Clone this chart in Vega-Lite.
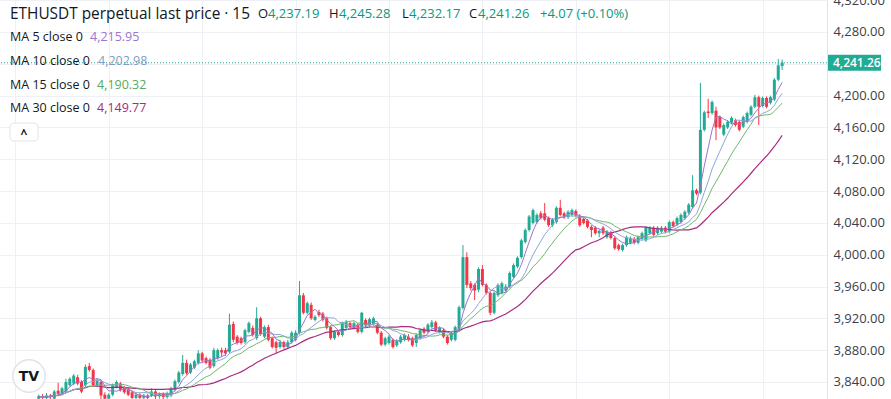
{
  "$schema": "https://vega.github.io/schema/vega-lite/v6.json",
  "width": 827,
  "height": 399,
  "autosize": {"type": "none"},
  "padding": {"left": 0, "top": 0, "right": 64, "bottom": 0},
  "background": "#ffffff",
  "config": {"view": {"stroke": null}, "font": "Open Sans", "axis": {"labelOverlap": false}},
  "datasets": {
    "candles": [
      {"i":0,"o":3819,"h":3824,"l":3817,"c":3822},{"i":1,"o":3822,"h":3825,"l":3817,"c":3820},{"i":2,"o":3820,"h":3826,"l":3818,"c":3823},{"i":3,"o":3823,"h":3825,"l":3818,"c":3821},{"i":4,"o":3819,"h":3830,"l":3817,"c":3828},{"i":5,"o":3829,"h":3839,"l":3822,"c":3825},{"i":6,"o":3825,"h":3834,"l":3823,"c":3832},{"i":7,"o":3828,"h":3844,"l":3826,"c":3840},{"i":8,"o":3836,"h":3846,"l":3834,"c":3844},{"i":9,"o":3838,"h":3850,"l":3836,"c":3848},
      {"i":10,"o":3846,"h":3849,"l":3836,"c":3838},{"i":11,"o":3840,"h":3842,"l":3826,"c":3828},{"i":12,"o":3836,"h":3862,"l":3834,"c":3859},{"i":13,"o":3860,"h":3864,"l":3853,"c":3855},{"i":14,"o":3855,"h":3857,"l":3834,"c":3836},{"i":15,"o":3836,"h":3845,"l":3834,"c":3842},{"i":16,"o":3840,"h":3842,"l":3818,"c":3823},{"i":17,"o":3824,"h":3827,"l":3816,"c":3819},{"i":18,"o":3819,"h":3826,"l":3817,"c":3824},{"i":19,"o":3824,"h":3838,"l":3822,"c":3836},
      {"i":20,"o":3834,"h":3842,"l":3832,"c":3840},{"i":21,"o":3838,"h":3840,"l":3828,"c":3830},{"i":22,"o":3833,"h":3835,"l":3825,"c":3827},{"i":23,"o":3831,"h":3833,"l":3822,"c":3824},{"i":24,"o":3827,"h":3829,"l":3817,"c":3820},{"i":25,"o":3820,"h":3826,"l":3817,"c":3824},{"i":26,"o":3824,"h":3826,"l":3817,"c":3820},{"i":27,"o":3820,"h":3825,"l":3817,"c":3823},{"i":28,"o":3823,"h":3825,"l":3817,"c":3820},{"i":29,"o":3823,"h":3832,"l":3821,"c":3828},
      {"i":30,"o":3828,"h":3830,"l":3818,"c":3822},{"i":31,"o":3822,"h":3827,"l":3819,"c":3825},{"i":32,"o":3825,"h":3827,"l":3818,"c":3821},{"i":33,"o":3821,"h":3828,"l":3819,"c":3826},{"i":34,"o":3823,"h":3834,"l":3821,"c":3832},{"i":35,"o":3830,"h":3843,"l":3828,"c":3841},{"i":36,"o":3840,"h":3854,"l":3838,"c":3852},{"i":37,"o":3850,"h":3874,"l":3848,"c":3864},{"i":38,"o":3864,"h":3868,"l":3849,"c":3851},{"i":39,"o":3852,"h":3864,"l":3850,"c":3862},
      {"i":40,"o":3858,"h":3868,"l":3856,"c":3866},{"i":41,"o":3864,"h":3880,"l":3862,"c":3876},{"i":42,"o":3876,"h":3878,"l":3865,"c":3867},{"i":43,"o":3870,"h":3872,"l":3862,"c":3864},{"i":44,"o":3868,"h":3870,"l":3856,"c":3858},{"i":45,"o":3860,"h":3883,"l":3858,"c":3880},{"i":46,"o":3870,"h":3882,"l":3868,"c":3880},{"i":47,"o":3880,"h":3883,"l":3872,"c":3877},{"i":48,"o":3880,"h":3883,"l":3873,"c":3876},{"i":49,"o":3878,"h":3926,"l":3876,"c":3912},
      {"i":50,"o":3913,"h":3916,"l":3890,"c":3893},{"i":51,"o":3897,"h":3899,"l":3887,"c":3889},{"i":52,"o":3895,"h":3897,"l":3887,"c":3889},{"i":53,"o":3890,"h":3907,"l":3888,"c":3905},{"i":54,"o":3903,"h":3916,"l":3901,"c":3914},{"i":55,"o":3908,"h":3911,"l":3897,"c":3899},{"i":56,"o":3895,"h":3934,"l":3893,"c":3920},{"i":57,"o":3920,"h":3922,"l":3898,"c":3900},{"i":58,"o":3897,"h":3911,"l":3895,"c":3909},{"i":59,"o":3909,"h":3912,"l":3891,"c":3893},
      {"i":60,"o":3895,"h":3897,"l":3882,"c":3884},{"i":61,"o":3890,"h":3892,"l":3876,"c":3883},{"i":62,"o":3884,"h":3893,"l":3882,"c":3890},{"i":63,"o":3890,"h":3892,"l":3882,"c":3884},{"i":64,"o":3884,"h":3893,"l":3882,"c":3890},{"i":65,"o":3890,"h":3904,"l":3888,"c":3902},{"i":66,"o":3893,"h":3905,"l":3891,"c":3902},{"i":67,"o":3902,"h":3967,"l":3900,"c":3949},{"i":68,"o":3949,"h":3952,"l":3925,"c":3927},{"i":69,"o":3927,"h":3941,"l":3925,"c":3939},
      {"i":70,"o":3937,"h":3940,"l":3918,"c":3920},{"i":71,"o":3918,"h":3924,"l":3916,"c":3922},{"i":72,"o":3928,"h":3931,"l":3922,"c":3924},{"i":73,"o":3926,"h":3928,"l":3916,"c":3918},{"i":74,"o":3920,"h":3922,"l":3906,"c":3908},{"i":75,"o":3909,"h":3911,"l":3893,"c":3895},{"i":76,"o":3895,"h":3905,"l":3893,"c":3903},{"i":77,"o":3903,"h":3905,"l":3897,"c":3899},{"i":78,"o":3899,"h":3916,"l":3897,"c":3914},{"i":79,"o":3908,"h":3918,"l":3906,"c":3915},
      {"i":80,"o":3914,"h":3916,"l":3907,"c":3909},{"i":81,"o":3908,"h":3916,"l":3906,"c":3914},{"i":82,"o":3912,"h":3914,"l":3901,"c":3903},{"i":83,"o":3903,"h":3928,"l":3901,"c":3927},{"i":84,"o":3918,"h":3920,"l":3909,"c":3911},{"i":85,"o":3911,"h":3921,"l":3909,"c":3919},{"i":86,"o":3913,"h":3922,"l":3911,"c":3920},{"i":87,"o":3912,"h":3914,"l":3900,"c":3902},{"i":88,"o":3902,"h":3904,"l":3885,"c":3887},{"i":89,"o":3887,"h":3897,"l":3885,"c":3895},
      {"i":90,"o":3889,"h":3899,"l":3887,"c":3897},{"i":91,"o":3893,"h":3895,"l":3882,"c":3884},{"i":92,"o":3886,"h":3894,"l":3884,"c":3892},{"i":93,"o":3890,"h":3899,"l":3888,"c":3897},{"i":94,"o":3893,"h":3901,"l":3891,"c":3899},{"i":95,"o":3897,"h":3900,"l":3891,"c":3893},{"i":96,"o":3895,"h":3897,"l":3884,"c":3886},{"i":97,"o":3889,"h":3901,"l":3884,"c":3899},{"i":98,"o":3895,"h":3907,"l":3893,"c":3905},{"i":99,"o":3907,"h":3909,"l":3900,"c":3902},
      {"i":100,"o":3903,"h":3914,"l":3901,"c":3912},{"i":101,"o":3909,"h":3918,"l":3907,"c":3915},{"i":102,"o":3915,"h":3917,"l":3903,"c":3905},{"i":103,"o":3903,"h":3910,"l":3901,"c":3908},{"i":104,"o":3905,"h":3907,"l":3895,"c":3897},{"i":105,"o":3897,"h":3899,"l":3887,"c":3889},{"i":106,"o":3893,"h":3904,"l":3891,"c":3902},{"i":107,"o":3893,"h":3911,"l":3891,"c":3909},{"i":108,"o":3905,"h":3936,"l":3903,"c":3934},{"i":109,"o":3933,"h":4012,"l":3931,"c":3997},
      {"i":110,"o":3997,"h":4003,"l":3958,"c":3962},{"i":111,"o":3964,"h":3967,"l":3955,"c":3958},{"i":112,"o":3962,"h":3964,"l":3943,"c":3955},{"i":113,"o":3956,"h":3984,"l":3953,"c":3982},{"i":114,"o":3982,"h":3987,"l":3960,"c":3962},{"i":115,"o":3962,"h":3964,"l":3950,"c":3952},{"i":116,"o":3952,"h":3954,"l":3924,"c":3927},{"i":117,"o":3927,"h":3954,"l":3925,"c":3952},{"i":118,"o":3949,"h":3964,"l":3947,"c":3962},{"i":119,"o":3952,"h":3966,"l":3950,"c":3964},
      {"i":120,"o":3955,"h":3963,"l":3953,"c":3960},{"i":121,"o":3960,"h":3979,"l":3958,"c":3977},{"i":122,"o":3972,"h":3989,"l":3970,"c":3987},{"i":123,"o":3985,"h":3998,"l":3983,"c":3996},{"i":124,"o":3997,"h":4020,"l":3995,"c":4018},{"i":125,"o":4016,"h":4033,"l":4014,"c":4031},{"i":126,"o":4031,"h":4050,"l":4029,"c":4048},{"i":127,"o":4040,"h":4058,"l":4038,"c":4056},{"i":128,"o":4041,"h":4052,"l":4039,"c":4050},{"i":129,"o":4052,"h":4055,"l":4044,"c":4046},
      {"i":130,"o":4052,"h":4065,"l":4042,"c":4044},{"i":131,"o":4046,"h":4048,"l":4035,"c":4037},{"i":132,"o":4037,"h":4046,"l":4035,"c":4044},{"i":133,"o":4041,"h":4061,"l":4039,"c":4059},{"i":134,"o":4059,"h":4069,"l":4048,"c":4050},{"i":135,"o":4052,"h":4054,"l":4045,"c":4047},{"i":136,"o":4047,"h":4056,"l":4045,"c":4054},{"i":137,"o":4050,"h":4058,"l":4048,"c":4056},{"i":138,"o":4055,"h":4057,"l":4047,"c":4049},{"i":139,"o":4049,"h":4051,"l":4035,"c":4037},
      {"i":140,"o":4045,"h":4047,"l":4038,"c":4040},{"i":141,"o":4043,"h":4045,"l":4033,"c":4035},{"i":142,"o":4035,"h":4037,"l":4022,"c":4031},{"i":143,"o":4034,"h":4036,"l":4025,"c":4027},{"i":144,"o":4027,"h":4032,"l":4022,"c":4030},{"i":145,"o":4034,"h":4036,"l":4025,"c":4027},{"i":146,"o":4022,"h":4031,"l":4020,"c":4029},{"i":147,"o":4028,"h":4030,"l":4019,"c":4021},{"i":148,"o":4021,"h":4023,"l":4006,"c":4008},{"i":149,"o":4012,"h":4014,"l":4005,"c":4007},
      {"i":150,"o":4006,"h":4014,"l":4004,"c":4012},{"i":151,"o":4012,"h":4024,"l":4010,"c":4022},{"i":152,"o":4015,"h":4023,"l":4013,"c":4021},{"i":153,"o":4020,"h":4022,"l":4013,"c":4015},{"i":154,"o":4015,"h":4024,"l":4013,"c":4022},{"i":155,"o":4020,"h":4029,"l":4018,"c":4027},{"i":156,"o":4018,"h":4036,"l":4016,"c":4034},{"i":157,"o":4027,"h":4036,"l":4025,"c":4034},{"i":158,"o":4034,"h":4036,"l":4023,"c":4025},{"i":159,"o":4027,"h":4036,"l":4025,"c":4034},
      {"i":160,"o":4029,"h":4036,"l":4027,"c":4034},{"i":161,"o":4034,"h":4036,"l":4027,"c":4029},{"i":162,"o":4029,"h":4043,"l":4027,"c":4041},{"i":163,"o":4041,"h":4043,"l":4034,"c":4036},{"i":164,"o":4038,"h":4048,"l":4036,"c":4046},{"i":165,"o":4041,"h":4052,"l":4039,"c":4050},{"i":166,"o":4046,"h":4056,"l":4044,"c":4054},{"i":167,"o":4053,"h":4065,"l":4051,"c":4063},{"i":168,"o":4060,"h":4100,"l":4058,"c":4081},{"i":169,"o":4081,"h":4083,"l":4075,"c":4077},
      {"i":170,"o":4078,"h":4216,"l":4076,"c":4157},{"i":171,"o":4157,"h":4181,"l":4155,"c":4179},{"i":172,"o":4180,"h":4196,"l":4172,"c":4178},{"i":173,"o":4178,"h":4194,"l":4176,"c":4192},{"i":174,"o":4181,"h":4186,"l":4144,"c":4160},{"i":175,"o":4173,"h":4175,"l":4158,"c":4160},{"i":176,"o":4151,"h":4165,"l":4149,"c":4163},{"i":177,"o":4160,"h":4169,"l":4158,"c":4167},{"i":178,"o":4166,"h":4174,"l":4164,"c":4172},{"i":179,"o":4169,"h":4171,"l":4161,"c":4163},
      {"i":180,"o":4167,"h":4169,"l":4155,"c":4157},{"i":181,"o":4161,"h":4175,"l":4159,"c":4173},{"i":182,"o":4167,"h":4180,"l":4165,"c":4178},{"i":183,"o":4176,"h":4188,"l":4174,"c":4186},{"i":184,"o":4186,"h":4201,"l":4184,"c":4198},{"i":185,"o":4198,"h":4200,"l":4163,"c":4186},{"i":186,"o":4187,"h":4199,"l":4185,"c":4197},{"i":187,"o":4197,"h":4199,"l":4184,"c":4186},{"i":188,"o":4191,"h":4200,"l":4189,"c":4198},{"i":189,"o":4195,"h":4222,"l":4193,"c":4220},
      {"i":190,"o":4220,"h":4246,"l":4218,"c":4238},{"i":191,"o":4237.19,"h":4245.28,"l":4232.17,"c":4241.26}
    ],
    "last": [{"price": 4241.26, "label": "4,241.26"}],
    "one": [{"k": 1}]
  },
  "layer": [
    {
      "data": {"name": "candles"},
      "mark": {"type": "rule", "strokeWidth": 1, "clip": true},
      "encoding": {
        "x": {"field": "i", "type": "quantitative",
              "scale": {"domain": [-8.655, 201.24], "nice": false, "zero": false},
              "axis": {"values": [-6, 18, 42, 66, 90, 114, 138, 162, 186], "tickCount": 30, "labels": false, "ticks": false, "domain": false, "grid": true, "gridColor": "#eef0f5", "title": null}},
        "y": {"field": "l", "type": "quantitative",
              "scale": {"domain": [3818.6, 4320.2], "nice": false, "zero": false},
              "axis": {"orient": "right", "values": [3840, 3880, 3920, 3960, 4000, 4040, 4080, 4120, 4160, 4200, 4240, 4280, 4320], "tickCount": 30,
                       "format": ",.2f", "labelExpr": "datum.value == 4240 ? '' : datum.label", "labelOverlap": false,
                       "grid": true, "gridColor": "#eef0f5", "ticks": false, "domain": true, "domainColor": "#e0e3eb",
                       "labelColor": "#3b3e48", "labelFontSize": 13, "labelFont": "Open Sans", "labelPadding": 6, "title": null}},
        "y2": {"field": "h"},
        "color": {"condition": {"test": "datum.c >= datum.o", "value": "#22ab94"}, "value": "#f23645"}
      }
    },
    {
      "data": {"name": "candles"},
      "mark": {"type": "bar", "width": 3, "clip": true},
      "encoding": {
        "x": {"field": "i", "type": "quantitative"},
        "y": {"field": "o", "type": "quantitative", "axis": {"orient": "right"}},
        "y2": {"field": "c"},
        "color": {"condition": {"test": "datum.c >= datum.o", "value": "#22ab94"}, "value": "#f23645"}
      }
    },
    {
      "data": {"name": "candles"},
      "transform": [
        {"window": [{"op": "mean", "field": "c", "as": "ma30"}], "frame": [-29, 0], "sort": [{"field": "i"}]},
        {"window": [{"op": "mean", "field": "c", "as": "ma15"}], "frame": [-14, 0], "sort": [{"field": "i"}]},
        {"window": [{"op": "mean", "field": "c", "as": "ma10"}], "frame": [-9, 0], "sort": [{"field": "i"}]},
        {"window": [{"op": "mean", "field": "c", "as": "ma5"}], "frame": [-4, 0], "sort": [{"field": "i"}]}
      ],
      "layer": [
        {"mark": {"type": "line", "color": "#a82a80", "strokeWidth": 1.2, "clip": true}, "encoding": {"x": {"field": "i", "type": "quantitative"}, "y": {"field": "ma30", "type": "quantitative", "axis": {"orient": "right"}}}},
        {"mark": {"type": "line", "color": "#6fb86f", "strokeWidth": 1, "clip": true}, "encoding": {"x": {"field": "i", "type": "quantitative"}, "y": {"field": "ma15", "type": "quantitative", "axis": {"orient": "right"}}}},
        {"mark": {"type": "line", "color": "#8ea6d4", "strokeWidth": 1, "clip": true}, "encoding": {"x": {"field": "i", "type": "quantitative"}, "y": {"field": "ma10", "type": "quantitative", "axis": {"orient": "right"}}}},
        {"mark": {"type": "line", "color": "#9b73d0", "strokeWidth": 1, "clip": true}, "encoding": {"x": {"field": "i", "type": "quantitative"}, "y": {"field": "ma5", "type": "quantitative", "axis": {"orient": "right"}}}}
      ]
    },
    {
      "data": {"name": "last"},
      "mark": {"type": "rule", "color": "#22ab94", "strokeWidth": 1, "strokeDash": [1, 2]},
      "encoding": {"y": {"field": "price", "type": "quantitative", "axis": {"orient": "right"}}}
    },
    {
      "data": {"name": "last"},
      "mark": {"type": "rect", "color": "#22ab94", "x": 828, "x2": 881, "yOffset": -8, "y2Offset": 8},
      "encoding": {"y": {"field": "price", "type": "quantitative", "axis": {"orient": "right"}}, "y2": {"field": "price"}}
    },
    {
      "data": {"name": "last"},
      "mark": {"type": "text", "color": "#ffffff", "x": 833, "align": "left", "baseline": "middle", "fontSize": 12, "fontWeight": 600, "font": "Open Sans"},
      "encoding": {"y": {"field": "price", "type": "quantitative", "axis": {"orient": "right"}}, "text": {"field": "label"}}
    },
    {"data": {"name": "one"}, "mark": {"type": "rect", "x": 10, "x2": 38, "y": 123, "y2": 141, "cornerRadius": 4, "fill": "#ffffff", "stroke": "#e0e3eb", "strokeWidth": 1}, "encoding": {}},
    {"data": {"name": "one"}, "mark": {"type": "text", "text": "^", "x": 24, "y": 134, "align": "center", "baseline": "middle", "fontSize": 12, "fontWeight": "bold", "color": "#131722"}, "encoding": {}},
    {"data": {"name": "one"}, "mark": {"type": "point", "shape": "circle", "x": 29, "y": 376, "size": 1050, "filled": true, "fill": "#ffffff", "stroke": "#e0e3eb", "strokeWidth": 1.5, "opacity": 1}, "encoding": {}},
    {"data": {"name": "one"}, "mark": {"type": "text", "text": "TV", "x": 29, "y": 377, "align": "center", "baseline": "middle", "fontSize": 14, "fontWeight": "bold", "color": "#131722", "font": "DejaVu Sans"}, "encoding": {}},
    {"data": {"name": "one"}, "mark": {"type": "text", "text": "ETHUSDT perpetual last price · 15", "x": 10, "y": 14, "align": "left", "baseline": "middle", "fontSize": 15.4, "color": "#131722"}, "encoding": {}},
    {"data": {"name": "one"}, "mark": {"type": "text", "text": "O", "x": 258, "y": 14, "align": "left", "baseline": "middle", "fontSize": 13, "color": "#131722"}, "encoding": {}},
    {"data": {"name": "one"}, "mark": {"type": "text", "text": "4,237.19", "x": 268, "y": 14, "align": "left", "baseline": "middle", "fontSize": 13, "color": "#089981"}, "encoding": {}},
    {"data": {"name": "one"}, "mark": {"type": "text", "text": "H", "x": 329, "y": 14, "align": "left", "baseline": "middle", "fontSize": 13, "color": "#131722"}, "encoding": {}},
    {"data": {"name": "one"}, "mark": {"type": "text", "text": "4,245.28", "x": 339, "y": 14, "align": "left", "baseline": "middle", "fontSize": 13, "color": "#089981"}, "encoding": {}},
    {"data": {"name": "one"}, "mark": {"type": "text", "text": "L", "x": 402, "y": 14, "align": "left", "baseline": "middle", "fontSize": 13, "color": "#131722"}, "encoding": {}},
    {"data": {"name": "one"}, "mark": {"type": "text", "text": "4,232.17", "x": 409, "y": 14, "align": "left", "baseline": "middle", "fontSize": 13, "color": "#089981"}, "encoding": {}},
    {"data": {"name": "one"}, "mark": {"type": "text", "text": "C", "x": 469, "y": 14, "align": "left", "baseline": "middle", "fontSize": 13, "color": "#131722"}, "encoding": {}},
    {"data": {"name": "one"}, "mark": {"type": "text", "text": "4,241.26", "x": 478, "y": 14, "align": "left", "baseline": "middle", "fontSize": 13, "color": "#089981"}, "encoding": {}},
    {"data": {"name": "one"}, "mark": {"type": "text", "text": "+4.07 (+0.10%)", "x": 540, "y": 14, "align": "left", "baseline": "middle", "fontSize": 13, "color": "#089981"}, "encoding": {}},
    {"data": {"name": "one"}, "mark": {"type": "text", "text": "MA 5 close 0", "x": 10, "y": 37, "align": "left", "baseline": "middle", "fontSize": 12.5, "color": "#131722"}, "encoding": {}},
    {"data": {"name": "one"}, "mark": {"type": "text", "text": "4,215.95", "x": 90, "y": 37, "align": "left", "baseline": "middle", "fontSize": 12.5, "color": "#9b73d0"}, "encoding": {}},
    {"data": {"name": "one"}, "mark": {"type": "text", "text": "MA 10 close 0", "x": 10, "y": 61, "align": "left", "baseline": "middle", "fontSize": 12.5, "color": "#131722"}, "encoding": {}},
    {"data": {"name": "one"}, "mark": {"type": "text", "text": "4,202.98", "x": 98, "y": 61, "align": "left", "baseline": "middle", "fontSize": 12.5, "color": "#7f9cc8"}, "encoding": {}},
    {"data": {"name": "one"}, "mark": {"type": "text", "text": "MA 15 close 0", "x": 10, "y": 85, "align": "left", "baseline": "middle", "fontSize": 12.5, "color": "#131722"}, "encoding": {}},
    {"data": {"name": "one"}, "mark": {"type": "text", "text": "4,190.32", "x": 97, "y": 85, "align": "left", "baseline": "middle", "fontSize": 12.5, "color": "#5aa85a"}, "encoding": {}},
    {"data": {"name": "one"}, "mark": {"type": "text", "text": "MA 30 close 0", "x": 10, "y": 108, "align": "left", "baseline": "middle", "fontSize": 12.5, "color": "#131722"}, "encoding": {}},
    {"data": {"name": "one"}, "mark": {"type": "text", "text": "4,149.77", "x": 97, "y": 108, "align": "left", "baseline": "middle", "fontSize": 12.5, "color": "#a82a80"}, "encoding": {}}
  ]
}
